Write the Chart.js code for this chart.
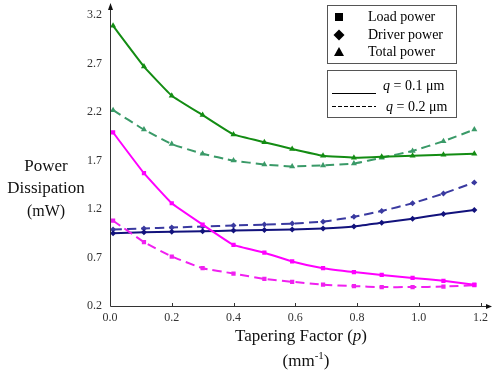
<!DOCTYPE html>
<html>
<head>
<meta charset="utf-8">
<script src="https://cdn.jsdelivr.net/npm/chart.js@4"></script>
<style>
html,body{margin:0;padding:0;background:#fff;}
#wrap{width:493px;height:372px;}
</style>
</head>
<body>
<div id="wrap"><canvas id="c" width="493" height="372"></canvas></div>
<script>
// Tapering factor p (mm^-1)
const pValues = [0.01, 0.11, 0.20, 0.30, 0.40, 0.50, 0.59, 0.69, 0.79, 0.88, 0.98, 1.08, 1.18];
// q = 0.1 um
const loadQ1   = [1.99, 1.57, 1.26, 1.04, 0.83, 0.75, 0.66, 0.59, 0.55, 0.52, 0.49, 0.46, 0.42];
const driverQ1 = [0.95, 0.96, 0.965, 0.97, 0.98, 0.985, 0.99, 1.00, 1.02, 1.06, 1.10, 1.15, 1.19];
const totalQ1  = [3.09, 2.67, 2.37, 2.17, 1.97, 1.89, 1.82, 1.75, 1.73, 1.74, 1.75, 1.76, 1.77];
// q = 0.2 um
const loadQ2   = [1.08, 0.86, 0.71, 0.59, 0.535, 0.48, 0.45, 0.42, 0.405, 0.395, 0.395, 0.40, 0.415];
const driverQ2 = [0.99, 1.00, 1.01, 1.02, 1.03, 1.04, 1.05, 1.07, 1.12, 1.18, 1.26, 1.36, 1.475];
const totalQ2  = [2.22, 2.02, 1.87, 1.77, 1.70, 1.66, 1.64, 1.65, 1.67, 1.73, 1.80, 1.90, 2.02];

const yTicks = [0.2, 0.7, 1.2, 1.7, 2.2, 2.7, 3.2];
const xTicks = [0.0, 0.2, 0.4, 0.6, 0.8, 1.0, 1.2];

const yTitleLines = ['Power', 'Dissipation', '(mW)'];
const xTitle = 'Tapering Factor (p)';
const legendMarkers = ['Load power', 'Driver power', 'Total power'];
const legendLines = ['q = 0.1 μm', 'q = 0.2 μm'];

const SERIF = '"Liberation Serif", "Times New Roman", serif';

function pts(arr){ return arr.map((v,i)=>({x:pValues[i], y:v})); }
function ds(arr, color, style, dashed){
  return {
    data: pts(arr),
    borderColor: color, backgroundColor: color,
    borderWidth: 2,
    borderDash: dashed ? [9,5] : [],
    pointStyle: style,
    pointRadius: style==='triangle' ? 3.5 : 3,
    pointBorderWidth: 0,
    tension: 0.1,
    fill: false
  };
}

const G1 = '#138c13', G2 = '#3a9a68', M1 = '#ff00ff', M2 = '#f020f0', N1 = '#12127c', N2 = '#3a3aa0';

const deco = {
  id: 'deco',
  afterDraw(chart){
    const ctx = chart.ctx, xs = chart.scales.x, ys = chart.scales.y;
    const x0 = xs.getPixelForValue(0), yb = ys.getPixelForValue(0.2);
    ctx.save();
    ctx.strokeStyle = '#333'; ctx.fillStyle = '#111'; ctx.lineWidth = 1;
    // axes
    ctx.beginPath();
    ctx.moveTo(x0+0.5, 7); ctx.lineTo(x0+0.5, yb+0.5); ctx.lineTo(489, yb+0.5);
    ctx.stroke();
    // arrows
    ctx.beginPath(); ctx.moveTo(x0+0.5, 3); ctx.lineTo(x0-2, 10); ctx.lineTo(x0+3, 10); ctx.closePath(); ctx.fill();
    ctx.beginPath(); ctx.moveTo(492, yb+0.5); ctx.lineTo(486, yb-2); ctx.lineTo(486, yb+3); ctx.closePath(); ctx.fill();
    // small inner ticks on x axis
    ctx.beginPath();
    xTicks.slice(1).forEach(v=>{ const px = Math.round(xs.getPixelForValue(v))+0.5; ctx.moveTo(px, yb); ctx.lineTo(px, yb-3); });
    ctx.stroke();

    // y title
    ctx.fillStyle = '#111';
    ctx.font = '17px ' + SERIF;
    ctx.textAlign = 'center'; ctx.textBaseline = 'middle';
    ctx.fillText(yTitleLines[0], 46, 167);
    ctx.fillText(yTitleLines[1], 46, 189);
    ctx.font = '16px ' + SERIF;
    ctx.fillText(yTitleLines[2], 46, 212);

    // x title with italic p
    ctx.font = '17px ' + SERIF;
    const part1 = 'Tapering Factor (', part2 = 'p', part3 = ')';
    const w1 = ctx.measureText(part1).width;
    ctx.font = 'italic 17px ' + SERIF;
    const w2 = ctx.measureText(part2).width;
    ctx.font = '17px ' + SERIF;
    const w3 = ctx.measureText(part3).width;
    let sx = 301 - (w1+w2+w3)/2;
    ctx.textAlign = 'left';
    ctx.fillText(part1, sx, 337);
    ctx.font = 'italic 17px ' + SERIF; ctx.fillText(part2, sx+w1, 337);
    ctx.font = '17px ' + SERIF; ctx.fillText(part3, sx+w1+w2, 337);
    // (mm-1)
    ctx.font = '17px ' + SERIF;
    const a = '(mm', b = '-1', c = ')';
    const wa = ctx.measureText(a).width, wc = ctx.measureText(c).width;
    ctx.font = '11px ' + SERIF;
    const wb = ctx.measureText(b).width;
    sx = 306 - (wa+wb+wc)/2;
    ctx.font = '17px ' + SERIF; ctx.fillText(a, sx, 362);
    ctx.font = '11px ' + SERIF; ctx.fillText(b, sx+wa, 356);
    ctx.font = '17px ' + SERIF; ctx.fillText(c, sx+wa+wb, 362);

    // legend box 1
    ctx.strokeStyle = '#555'; ctx.lineWidth = 1;
    ctx.fillStyle = '#fff';
    ctx.fillRect(327.5, 5.5, 129, 58); ctx.strokeRect(327.5, 5.5, 129, 58);
    ctx.fillStyle = '#000';
    const rowsY = [17, 35, 52];
    // square
    ctx.fillRect(335, rowsY[0]-4, 8, 8);
    // diamond
    ctx.beginPath(); ctx.moveTo(339, rowsY[1]-5.5); ctx.lineTo(344.5, rowsY[1]); ctx.lineTo(339, rowsY[1]+5.5); ctx.lineTo(333.5, rowsY[1]); ctx.closePath(); ctx.fill();
    // triangle
    ctx.beginPath(); ctx.moveTo(339, rowsY[2]-5); ctx.lineTo(344, rowsY[2]+4); ctx.lineTo(334, rowsY[2]+4); ctx.closePath(); ctx.fill();
    ctx.font = '14px ' + SERIF; ctx.textAlign = 'left'; ctx.textBaseline = 'middle';
    legendMarkers.forEach((t,i)=> ctx.fillText(t, 368, rowsY[i]));

    // legend box 2
    ctx.fillStyle = '#fff';
    ctx.fillRect(327.5, 70.5, 129, 47); ctx.strokeRect(327.5, 70.5, 129, 47);
    ctx.strokeStyle = '#000'; ctx.lineWidth = 1;
    ctx.beginPath(); ctx.moveTo(332, 93.5); ctx.lineTo(376, 93.5); ctx.stroke();
    ctx.setLineDash([4,2]);
    ctx.beginPath(); ctx.moveTo(332, 106.5); ctx.lineTo(376, 106.5); ctx.stroke();
    ctx.setLineDash([]);
    ctx.fillStyle = '#000';
    function qLine(text, x, y){
      ctx.font = 'italic 14px ' + SERIF;
      ctx.fillText(text[0], x, y);
      const wq = ctx.measureText(text[0]).width;
      ctx.font = '14px ' + SERIF;
      ctx.fillText(text.slice(1), x+wq, y);
    }
    qLine(legendLines[0], 383, 86);
    qLine(legendLines[1], 386, 107);
    ctx.restore();
  }
};

new Chart(document.getElementById('c'), {
  type: 'line',
  data: {
    datasets: [
      ds(totalQ1, G1, 'triangle', false),
      ds(totalQ2, G2, 'triangle', true),
      ds(loadQ1, M1, 'rect', false),
      ds(loadQ2, M2, 'rect', true),
      ds(driverQ1, N1, 'rectRot', false),
      ds(driverQ2, N2, 'rectRot', true)
    ]
  },
  options: {
    responsive: false,
    animation: false,
    layout: { padding: { left: 0, top: 13, right: 10, bottom: 0 } },
    plugins: { legend: { display: false }, tooltip: { enabled: false } },
    scales: {
      x: {
        type: 'linear', min: 0, max: 1.2,
        grid: { display: false, drawTicks: false }, border: { display: false },
        afterBuildTicks(s){ s.ticks = xTicks.map(v=>({value:v})); },
        ticks: { color: '#333', font: { family: SERIF, size: 12 }, padding: 5, maxRotation: 0,
                 callback: v => Number(v).toFixed(1) },
        afterFit(s){ s.height = 66; }
      },
      y: {
        type: 'linear', min: 0.2, max: 3.2,
        grid: { display: false, drawTicks: false }, border: { display: false },
        afterBuildTicks(s){ s.ticks = yTicks.map(v=>({value:v})); },
        ticks: { color: '#333', font: { family: SERIF, size: 12 }, padding: 8,
                 callback: v => Number(v).toFixed(1) },
        afterFit(s){ s.width = 110; }
      }
    }
  },
  plugins: [deco]
});
</script>
</body>
</html>
